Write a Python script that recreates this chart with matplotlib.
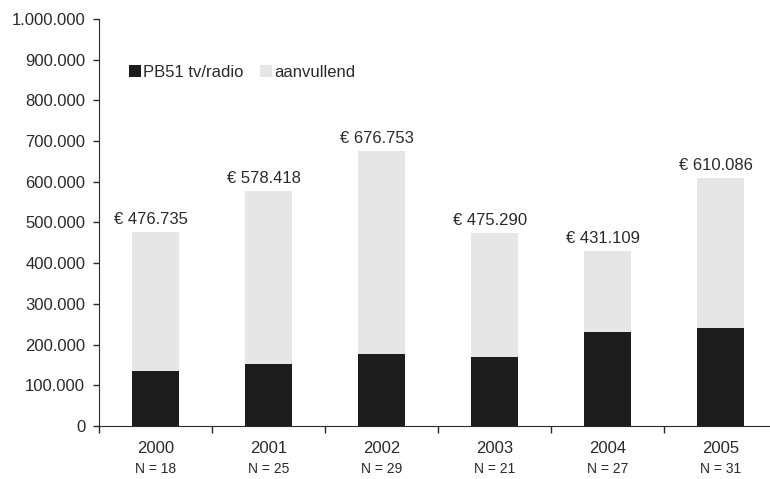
import numpy as np
import matplotlib.pyplot as plt
from matplotlib.ticker import FuncFormatter

plt.rcParams['font.family'] = ['Liberation Sans', 'DejaVu Sans']

years = ['2000', '2001', '2002', '2003', '2004', '2005']
n_values = [18, 25, 29, 21, 27, 31]
totals = [476735, 578418, 676753, 475290, 431109, 610086]
pb51 = [135000, 152000, 177000, 169000, 230000, 240000]

aanvullend = [t - p for t, p in zip(totals, pb51)]

txt = '#2a2a2a'

fig = plt.figure(figsize=(7.7, 4.79), dpi=100)
ax = fig.add_axes([0.1286, 0.1107, 0.8805, 0.8496])

x = np.arange(len(years))
w = 0.41
ax.bar(x, pb51, w, color='#1c1c1c', label='PB51 tv/radio')
ax.bar(x, aanvullend, w, bottom=pb51, color='#e6e6e6', label='aanvullend')

for xi, t in zip(x, totals):
    lbl = '€ ' + f'{t:,}'.replace(',', '.')
    ax.annotate(lbl, (xi, t), xytext=(-3, 3.5), textcoords='offset points',
                ha='center', va='bottom', fontsize=12, color=txt)

ax.set_xlim(-0.5, 5.5)
ax.set_ylim(0, 1000000)
ax.set_yticks(np.arange(0, 1000001, 100000))
ax.yaxis.set_major_formatter(FuncFormatter(lambda v, p: f'{int(v):,}'.replace(',', '.')))
ax.tick_params(axis='y', labelsize=12, colors=txt, length=4, width=1, pad=6)

ax.set_xticks(x)
ax.set_xticklabels(years)
ax.set_xticks(np.arange(-0.5, 6, 1), minor=True)
ax.tick_params(axis='x', which='major', length=0, pad=11, labelsize=12, colors=txt)
ax.tick_params(axis='x', which='minor', length=5, width=1, color=txt)

for xi, n in zip(x, n_values):
    ax.text(xi, -0.106, f'N = {n}', transform=ax.get_xaxis_transform(),
            ha='center', va='center', fontsize=10, color=txt)

ax.spines['top'].set_visible(False)
ax.spines['right'].set_visible(False)
for s in ['left', 'bottom']:
    ax.spines[s].set_color(txt)

ax.legend(loc='upper left', bbox_to_anchor=(0.022, 0.925), ncol=2, frameon=False,
          fontsize=12, handlelength=0.7, handleheight=0.7, handletextpad=0.15,
          columnspacing=1.0, labelcolor=txt)

fig.savefig('out.png', dpi=100)
